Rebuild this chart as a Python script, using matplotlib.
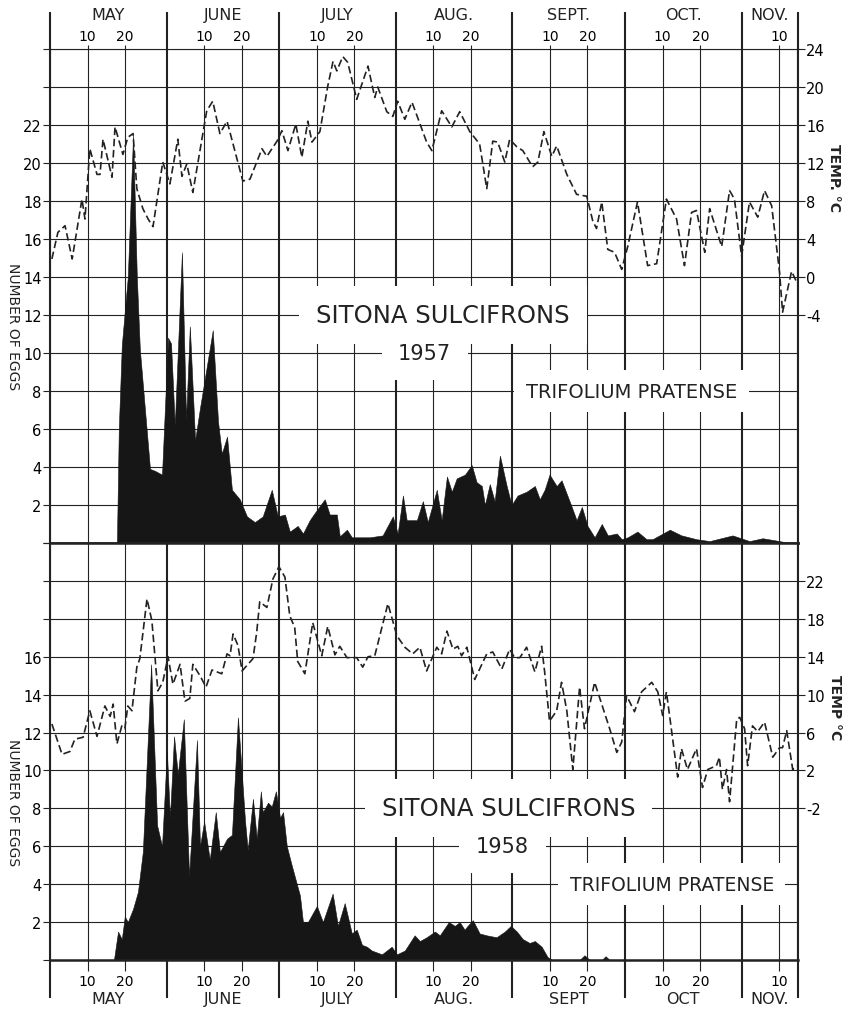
import numpy as np
import matplotlib.pyplot as plt

plt.rcParams['font.family'] = ['DejaVu Sans']
plt.rcParams['axes.unicode_minus'] = False

# x is counted in days from 30 April (May d -> d, June d -> 31 + d, ...)
month_starts = [0, 31, 61, 92, 123, 153, 184]
x_end = 199
months_top = ['MAY', 'JUNE', 'JULY', 'AUG.', 'SEPT.', 'OCT.', 'NOV.']
months_bottom = ['MAY', 'JUNE', 'JULY', 'AUG.', 'SEPT', 'OCT', 'NOV.']

# 1957 daily mean temperature (deg C)
temp57_day = [0.5, 2.1, 4.0, 5.9, 8.5, 9.3, 10.6, 12.5, 13.3, 14.1,
              16.5, 17.3, 19.4, 20.7, 22.1, 23.1, 24.7, 26.1, 27.4, 30.0,
              31.9, 34.0, 35.1, 36.4, 38.0, 41.7, 43.3, 45.2, 47.1, 51.3,
              53.2, 56.4, 57.7, 60.4, 61.7, 63.3, 65.4, 67.0, 68.6, 69.7,
              71.8, 73.9, 75.3, 76.3, 77.9, 79.2, 81.6, 84.6, 86.4, 87.2,
              89.6, 91.2, 92.5, 94.4, 96.3, 97.8, 100.2, 101.6, 104.2, 106.9,
              109.0, 111.7, 114.3, 116.2, 117.8, 119.1, 121.0, 122.3, 124.2, 125.8,
              128.4, 129.8, 131.4, 133.5, 134.8, 137.5, 140.1, 142.8, 144.4, 145.4,
              146.8, 148.4, 150.2, 152.1, 153.7, 156.3, 159.0, 161.4, 164.0, 166.7,
              168.8, 170.7, 172.0, 174.2, 175.5, 178.7, 180.8, 182.1, 184.0, 186.1,
              188.3, 190.1, 192.0, 194.1, 194.9, 197.3, 198.6]
temp57 = [1.9, 4.7, 5.4, 1.9, 8.2, 6.1, 13.5, 10.8, 10.8, 14.5,
          10.5, 15.8, 12.9, 14.7, 15.1, 9.3, 7.2, 6.1, 5.3, 12.1,
          9.8, 14.5, 10.6, 11.9, 8.9, 17.5, 18.5, 15.1, 16.4, 10.1,
          10.3, 13.5, 12.7, 14.3, 15.4, 13.3, 16.1, 12.6, 16.4, 14.2,
          15.3, 20.1, 22.7, 21.7, 23.2, 22.6, 18.7, 22.2, 18.9, 20.0,
          17.4, 16.9, 18.5, 16.6, 18.4, 16.8, 14.2, 13.3, 17.5, 15.8,
          17.4, 15.3, 14.0, 9.3, 14.3, 14.2, 12.1, 14.5, 13.7, 13.3,
          11.6, 12.1, 15.3, 12.7, 13.8, 10.8, 8.7, 8.5, 5.9, 5.1,
          7.9, 2.9, 2.6, 0.8, 3.2, 7.9, 1.2, 1.4, 8.2, 6.1,
          1.2, 6.8, 7.0, 2.6, 7.2, 3.2, 9.1, 8.2, 2.2, 7.9,
          6.3, 9.1, 7.5, 0.5, -3.7, 0.6, -0.5]

# 1957 number of eggs
eggs57_day = [17.8, 18.3, 19.1, 20.7, 22.1, 23.1, 23.9, 26.6, 27.9, 29.8,
              31.4, 32.2, 33.2, 35.1, 36.2, 37.2, 38.6, 39.9, 43.3, 44.7,
              45.7, 47.1, 48.4, 50.5, 52.4, 54.5, 56.6, 59.0, 60.6, 62.5,
              63.8, 65.9, 67.3, 69.1, 70.5, 73.1, 74.4, 76.3, 77.1, 79.0,
              80.3, 85.1, 88.5, 91.2, 92.5, 93.9, 94.9, 97.6, 99.2, 100.5,
              102.9, 104.2, 105.6, 106.9, 108.2, 110.4, 112.2, 113.5, 114.9, 115.7,
              117.0, 118.3, 119.7, 121.5, 122.8, 124.4, 126.8, 129.0, 130.3, 131.6,
              132.9, 134.8, 136.1, 138.8, 140.1, 141.5, 143.0, 144.9, 146.8, 148.4,
              150.8, 152.1, 153.7, 156.3, 158.7, 160.3, 164.9, 168.0, 172.0, 175.5,
              181.6, 186.1, 189.6, 194.1, 196.8]
eggs57 = [0, 6.0, 10.4, 14.0, 21.5, 14.0, 10.2, 3.9, 3.8, 3.6,
          10.8, 10.5, 6.2, 15.3, 6.5, 11.4, 5.4, 7.1, 11.2, 6.4,
          4.7, 5.6, 2.8, 2.3, 1.4, 1.1, 1.4, 2.8, 1.4, 1.5,
          0.6, 0.9, 0.5, 1.2, 1.6, 2.3, 1.5, 1.5, 0.35, 0.7,
          0.3, 0.3, 0.4, 1.4, 0.5, 2.5, 1.2, 1.2, 2.2, 1.1,
          2.8, 1.2, 3.5, 2.7, 3.4, 3.6, 4.1, 3.2, 3.0, 2.0,
          3.1, 2.2, 4.6, 3.0, 2.0, 2.5, 2.7, 3.0, 2.3, 2.8,
          3.6, 3.0, 3.3, 1.9, 1.2, 1.9, 0.9, 0.3, 1.0, 0.4,
          0.5, 0.2, 0.3, 0.6, 0.2, 0.2, 0.7, 0.4, 0.2, 0.1,
          0.4, 0.1, 0.25, 0.1, 0]

# 1958 daily mean temperature (deg C)
temp58_day = [0.5, 3.2, 5.3, 6.6, 8.8, 10.6, 12.5, 14.6, 16.0, 16.8,
              17.8, 19.1, 19.9, 20.7, 21.8, 23.1, 23.9, 25.8, 27.1, 28.7,
              30.0, 31.4, 32.7, 34.6, 35.9, 37.2, 38.0, 39.9, 41.5, 43.1,
              45.7, 47.1, 47.9, 48.7, 50.0, 51.1, 54.0, 55.0, 55.8, 57.7,
              59.3, 60.9, 62.5, 63.8, 65.1, 65.9, 67.8, 69.9, 72.3, 73.9,
              75.8, 77.1, 79.0, 81.6, 83.2, 84.6, 86.4, 89.9, 92.3, 94.4,
              96.5, 98.4, 100.2, 102.9, 104.2, 105.6, 107.2, 108.5, 109.5, 110.9,
              113.0, 116.2, 117.8, 120.2, 122.3, 123.6, 125.0, 126.8, 129.0, 130.8,
              131.6, 132.9, 134.8, 136.1, 137.5, 139.1, 140.9, 142.2, 144.9, 148.9,
              150.8, 152.1, 153.4, 155.5, 157.4, 160.1, 161.7, 163.0, 164.0, 165.4,
              167.0, 168.0, 169.6, 172.0, 173.6, 175.0, 177.3, 178.1, 178.9, 180.0,
              180.8, 182.7, 183.5, 184.8, 185.6, 186.9, 188.3, 190.1, 192.3, 194.1,
              194.9, 196.0, 197.6, 198.6]
temp58 = [6.9, 3.7, 4.0, 5.3, 5.5, 8.3, 5.6, 8.8, 7.7, 9.0,
          4.8, 6.7, 6.4, 8.8, 8.3, 12.9, 13.8, 20.1, 17.8, 10.4,
          11.3, 14.0, 11.1, 13.2, 9.3, 9.6, 13.2, 12.0, 10.8, 12.6,
          12.2, 14.3, 14.1, 16.4, 15.2, 12.5, 13.8, 16.6, 19.8, 19.2,
          22.2, 23.5, 22.4, 18.3, 17.1, 13.5, 12.2, 17.6, 14.1, 17.2,
          14.2, 15.1, 13.9, 13.9, 12.9, 14.0, 14.1, 19.6, 16.2, 15.0,
          14.3, 15.0, 12.5, 15.0, 14.3, 16.7, 14.8, 15.1, 14.1, 15.0,
          11.6, 14.3, 14.5, 12.7, 14.8, 13.9, 13.9, 15.0, 12.4, 15.1,
          12.4, 7.2, 8.3, 11.3, 8.3, 2.1, 10.8, 6.4, 11.3, 6.4,
          3.9, 5.0, 9.9, 8.2, 10.3, 11.3, 10.3, 7.8, 10.3, 6.1,
          1.3, 4.3, 2.1, 4.3, 0.2, 2.1, 2.5, 3.4, 0.0, 2.1,
          -1.3, 7.4, 7.6, 6.4, 2.5, 6.7, 6.1, 7.1, 3.4, 4.4,
          4.4, 6.2, 2.1, 2.5]

# 1958 number of eggs
eggs58_day = [17.0, 18.1, 19.1, 19.9, 20.7, 22.1, 23.4, 24.7, 26.9, 28.5,
              29.8, 31.1, 31.9, 33.0, 34.0, 35.6, 37.0, 39.1, 39.9, 41.0,
              42.5, 44.1, 45.2, 47.1, 48.4, 50.0, 51.9, 52.6, 54.0, 55.0,
              56.1, 56.6, 58.0, 59.0, 60.1, 61.2, 62.0, 63.0, 64.3, 66.5,
              67.3, 68.6, 71.0, 72.6, 75.2, 76.6, 78.4, 80.3, 81.6, 83.0,
              84.3, 85.6, 88.3, 90.9, 92.3, 94.4, 97.0, 98.4, 100.2, 102.4,
              103.7, 106.1, 107.7, 109.0, 110.3, 111.1, 112.5, 114.3, 116.2, 118.8,
              121.0, 122.6, 124.2, 125.8, 127.6, 129.0, 130.8, 132.4, 133.7, 140.9,
              142.2, 143.6, 146.8, 147.8, 148.9]
eggs58 = [0, 1.5, 1.1, 2.3, 2.0, 2.7, 3.6, 5.7, 15.6, 7.1,
          6.0, 11.0, 7.5, 11.8, 9.8, 12.7, 4.4, 11.6, 6.0, 7.3,
          5.3, 7.8, 5.7, 6.4, 6.6, 12.8, 7.3, 5.8, 8.5, 6.4,
          8.9, 7.8, 8.3, 8.1, 8.9, 7.5, 7.8, 6.0, 5.0, 3.4,
          2.0, 2.0, 2.85, 2.0, 3.5, 1.8, 3.0, 1.4, 1.6, 0.8,
          0.7, 0.5, 0.3, 0.7, 0.3, 0.5, 1.3, 1.0, 1.2, 1.5,
          1.3, 2.0, 1.8, 2.0, 1.6, 1.8, 2.1, 1.4, 1.3, 1.2,
          1.5, 1.8, 1.5, 1.1, 0.9, 1.0, 0.7, 0.15, 0, 0,
          0.25, 0, 0, 0.2, 0]

ink = '#222222'
fill_col = '#161616'
fsz = 10.5

day_ticks = [m + d for m in month_starts for d in (10, 20) if m + d < x_end]
day_labels = [str(d) for m in month_starts for d in (10, 20) if m + d < x_end]
month_mid = [(a + b) / 2 for a, b in zip(month_starts, month_starts[1:] + [x_end])]


def style_panel(ax, ymax, labelled, temp_lim, temp_ticks):
    ax.set_xlim(0, x_end)
    ax.set_ylim(0, ymax)
    ax.set_xticks(month_starts + [x_end])
    ax.set_xticks(day_ticks, minor=True)
    ax.set_xticklabels([])
    ax.set_xticklabels(day_labels, minor=True)
    yt = list(range(0, ymax + 1, 2))
    ax.set_yticks(yt)
    ax.set_yticklabels([str(v) if v in labelled else '' for v in yt])
    ax.set_axisbelow(True)
    ax.grid(which='major', axis='x', color=ink, lw=1.5)
    ax.grid(which='minor', axis='x', color=ink, lw=0.8)
    ax.grid(which='major', axis='y', color=ink, lw=0.8)
    ax.tick_params(axis='y', left=True, right=True, length=5, width=0.8,
                   color=ink, labelsize=fsz, pad=1)
    for s in ['left', 'right']:
        ax.spines[s].set_linewidth(1.5)
    for s in ax.spines.values():
        s.set_color(ink)
    tw = ax.twinx()
    tw.set_ylim(*temp_lim)
    tw.set_yticks(temp_ticks)
    tw.tick_params(axis='y', length=5, width=0.8, color=ink, labelsize=fsz, pad=1)
    for s in tw.spines.values():
        s.set_visible(False)
    return tw


fig = plt.figure(figsize=(8.49, 10.12), dpi=100)
ax1 = fig.add_axes([0.0589, 0.46245, 0.8810, 0.48814])
ax2 = fig.add_axes([0.0589, 0.05040, 0.8810, 0.41206])

tw1 = style_panel(ax1, 26, range(2, 23, 2), (-28, 24), range(-4, 25, 4))
tw2 = style_panel(ax2, 22, range(2, 17, 2), (-18, 26), range(-2, 23, 4))

# top panel: month labels on top
ax1.tick_params(axis='x', which='major', top=True, bottom=False, length=27,
                width=1.5, color=ink, labeltop=False, labelbottom=False)
ax1.tick_params(axis='x', which='minor', top=True, bottom=False, length=3,
                width=0.8, color=ink, labeltop=True, labelbottom=False,
                labelsize=10, pad=1)
ax1.spines['top'].set_linewidth(0.8)
ax1.spines['bottom'].set_linewidth(1.8)
for x, name in zip(month_mid, months_top):
    ax1.text(x, 1.069, name, transform=ax1.get_xaxis_transform(),
             ha='center', va='center', fontsize=11.5, color=ink)

# bottom panel: month labels underneath
ax2.tick_params(axis='x', which='major', top=False, bottom=True, length=27,
                width=1.5, color=ink, labelbottom=False)
ax2.tick_params(axis='x', which='minor', top=False, bottom=True, length=8,
                width=0.8, color=ink, labelbottom=True, labelsize=10, pad=2)
ax2.spines['top'].set_linewidth(1.8)
ax2.spines['bottom'].set_linewidth(1.8)
for x, name in zip(month_mid, months_bottom):
    ax2.text(x, -0.0935, name, transform=ax2.get_xaxis_transform(),
             ha='center', va='center', fontsize=11.5, color=ink)

# data
ax1.fill_between(eggs57_day, 0, eggs57, color=fill_col, lw=0.4, zorder=2)
ax2.fill_between(eggs58_day, 0, eggs58, color=fill_col, lw=0.4, zorder=2)
tw1.plot(temp57_day, temp57, color=ink, lw=1.2, ls=(0, (4.5, 2.2)))
tw2.plot(temp58_day, temp58, color=ink, lw=1.2, ls=(0, (4.5, 2.2)))

# titles with white boxes breaking the grid
box = lambda p: dict(boxstyle=f'square,pad={p}', fc='white', ec='none')
ax1.text(104.5, 12, 'SITONA SULCIFRONS', ha='center', va='center',
         fontsize=17.5, color=ink, zorder=5, bbox=box(0.7))
ax1.text(99.7, 10, '1957', ha='center', va='center', fontsize=15,
         color=ink, zorder=5, bbox=box(0.8))
ax1.text(154.7, 8, 'TRIFOLIUM PRATENSE', ha='center', va='center',
         fontsize=14, color=ink, zorder=5, bbox=box(0.6))
ax2.text(122, 8, 'SITONA SULCIFRONS', ha='center', va='center',
         fontsize=17.5, color=ink, zorder=5, bbox=box(0.7))
ax2.text(120.4, 6, '1958', ha='center', va='center', fontsize=15,
         color=ink, zorder=5, bbox=box(0.8))
ax2.text(165.4, 4, 'TRIFOLIUM PRATENSE', ha='center', va='center',
         fontsize=13.5, color=ink, zorder=5, bbox=box(0.6))

# axis titles
fig.text(13 / 849, 1 - 327 / 1012, 'NUMBER OF EGGS', rotation=-90,
         ha='center', va='center', fontsize=10, color=ink)
fig.text(13 / 849, 1 - 803 / 1012, 'NUMBER OF EGGS', rotation=-90,
         ha='center', va='center', fontsize=10, color=ink)
fig.text(834 / 849, 1 - 178 / 1012, 'TEMP. °C', rotation=-90,
         ha='center', va='center', fontsize=10, fontweight='bold', color=ink)
fig.text(835 / 849, 1 - 708 / 1012, 'TEMP °C', rotation=-90,
         ha='center', va='center', fontsize=10, fontweight='bold', color=ink)

fig.savefig('out.png', dpi=100, facecolor='white')
